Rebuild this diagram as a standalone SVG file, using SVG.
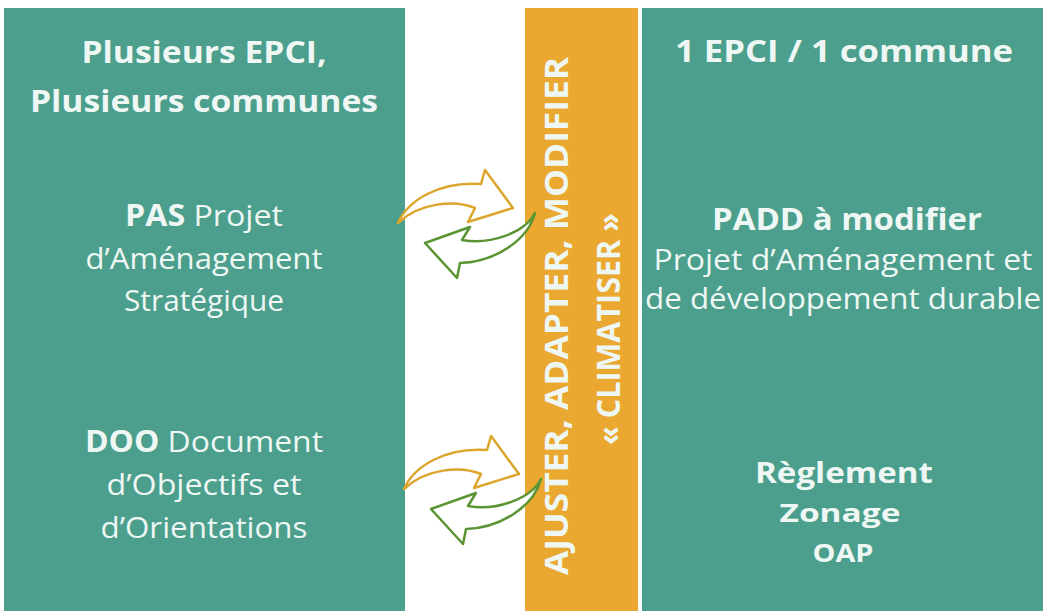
<svg xmlns="http://www.w3.org/2000/svg" width="1043" height="611" viewBox="0 0 1043 611">
<style>
.panel{fill:#4b9f8c}
.bar{fill:#eaa830}
.t{font-family:"Open Sans","Liberation Sans",sans-serif;fill:#eef7f4;text-anchor:middle}
.b{font-weight:700}
.r{font-weight:400}
.ao{fill:#ffffff;stroke:#dca52c;stroke-width:2.5;stroke-linejoin:round}
.ag{fill:#ffffff;stroke:#5b9432;stroke-width:2.5;stroke-linejoin:round}
</style>
<defs>
<g id="swap">
<path class="ag" d="M535,213 C528,240 495,262 460,263 L457,278 L425,243 L470,227 L462,240 C490,245 525,233 535,213 Z"/>
<path class="ao" d="M398,223 C408,200 440,181 481,184 L485,170 L513,208 L468,222 L475,208 C455,200 420,202 398,223 Z"/>
</g>
</defs>
<rect width="1043" height="611" fill="#ffffff"/>
<g id="left-panel">
<rect class="panel" x="4" y="8" width="401" height="603"/>
<text class="t b" x="204" y="63" font-size="31" textLength="245" lengthAdjust="spacingAndGlyphs">Plusieurs EPCI,</text>
<text class="t b" x="204" y="112" font-size="31" textLength="348" lengthAdjust="spacingAndGlyphs">Plusieurs communes</text>
<g id="pas">
<text class="t r" x="204" y="226" font-size="30" textLength="158" lengthAdjust="spacingAndGlyphs"><tspan class="b">PAS</tspan> Projet</text>
<text class="t r" x="204" y="269" font-size="30" textLength="237" lengthAdjust="spacingAndGlyphs">d’Aménagement</text>
<text class="t r" x="204" y="311" font-size="30" textLength="160" lengthAdjust="spacingAndGlyphs">Stratégique</text>
</g>
<g id="doo">
<text class="t r" x="204" y="452" font-size="30" textLength="238" lengthAdjust="spacingAndGlyphs"><tspan class="b">DOO</tspan> Document</text>
<text class="t r" x="204" y="495" font-size="30" textLength="195" lengthAdjust="spacingAndGlyphs">d’Objectifs et</text>
<text class="t r" x="204" y="538" font-size="30" textLength="207" lengthAdjust="spacingAndGlyphs">d’Orientations</text>
</g>
</g>
<g id="center-bar">
<rect class="bar" x="525" y="8" width="113" height="603"/>
<text class="t b" transform="translate(568,316) rotate(-90)" x="0" y="0" font-size="33" textLength="518" lengthAdjust="spacingAndGlyphs">AJUSTER, ADAPTER, MODIFIER</text>
<text class="t b" transform="translate(620,329) rotate(-90)" x="0" y="0" font-size="33" textLength="232" lengthAdjust="spacingAndGlyphs">« CLIMATISER »</text>
</g>
<g id="right-panel">
<rect class="panel" x="642" y="8" width="401" height="603"/>
<text class="t b" x="844" y="62" font-size="31" textLength="338" lengthAdjust="spacingAndGlyphs">1 EPCI / 1 commune</text>
<g id="padd">
<text class="t b" x="847" y="230" font-size="31" textLength="270" lengthAdjust="spacingAndGlyphs">PADD à modifier</text>
<text class="t r" x="843" y="270" font-size="29" textLength="379" lengthAdjust="spacingAndGlyphs">Projet d’Aménagement et</text>
<text class="t r" x="843" y="309" font-size="29" textLength="396" lengthAdjust="spacingAndGlyphs">de développement durable</text>
</g>
<g id="reglement">
<text class="t b" x="844" y="483" font-size="28" textLength="178" lengthAdjust="spacingAndGlyphs">Règlement</text>
<text class="t b" x="840" y="522" font-size="25" textLength="121" lengthAdjust="spacingAndGlyphs">Zonage</text>
<text class="t b" x="843" y="562" font-size="25" textLength="61" lengthAdjust="spacingAndGlyphs">OAP</text>
</g>
</g>
<g id="connectors">
<use href="#swap"/>
<use href="#swap" transform="translate(6,266)"/>
</g>
</svg>
